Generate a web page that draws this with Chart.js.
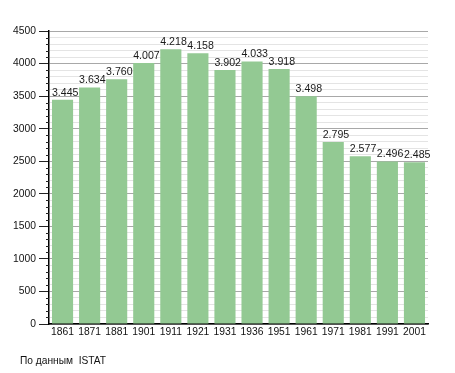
<!DOCTYPE html>
<html><head><meta charset="utf-8">
<script src="https://cdn.jsdelivr.net/npm/chart.js@4"></script>
<style>
html,body{margin:0;padding:0;background:#fff;}
#wrap{position:relative;width:455px;height:373px;}
#note{position:absolute;left:20px;top:355px;font:10.2px "Liberation Sans",Arial,sans-serif;color:#111;white-space:pre;}
</style></head>
<body><div id="wrap"><canvas id="c" width="455" height="373"></canvas><div id="note">По данным  ISTAT</div></div>
<script>
const years = ['1861','1871','1881','1901','1911','1921','1931','1936','1951','1961','1971','1981','1991','2001'];
const population = [3445,3634,3760,4007,4218,4158,3902,4033,3918,3498,2795,2577,2496,2485];
const valueLabels = ['3.445','3.634','3.760','4.007','4.218','4.158','3.902','4.033','3.918','3.498','2.795','2.577','2.496','2.485'];
const yMax = 4500;
const FONT = '"Liberation Sans", Arial, sans-serif';

const labelPlugin = {
  id:'vals',
  afterDatasetsDraw(chart){
    const ctx = chart.ctx;
    const meta = chart.getDatasetMeta(0);
    ctx.save();
    ctx.font = '10.6px ' + FONT;
    ctx.fillStyle = '#1a1a1a';
    ctx.textAlign = 'left';
    ctx.textBaseline = 'alphabetic';
    meta.data.forEach((bar,i)=>{
      ctx.fillText(valueLabels[i], bar.x - bar.width/2, bar.y - 4);
    });
    // minor ticks on the y axis
    const ys = chart.scales.y;
    ctx.strokeStyle = '#222';
    ctx.lineWidth = 1;
    for (let v = 0; v <= yMax; v += 100) {
      if (v % 500 === 0) continue;
      const py = Math.round(ys.getPixelForValue(v)) + 0.5;
      ctx.beginPath();
      ctx.moveTo(ys.right - 3, py);
      ctx.lineTo(ys.right, py);
      ctx.stroke();
    }
    ctx.restore();
  }
};

new Chart(document.getElementById('c'),{
  type:'bar',
  data:{labels:years,datasets:[{data:population,backgroundColor:'#93c993',borderWidth:0,barPercentage:0.78,categoryPercentage:1}]},
  options:{
    responsive:false,animation:false,
    layout:{padding:{top:31,right:27,left:0,bottom:0}},
    plugins:{legend:{display:false},tooltip:{enabled:false}},
    scales:{
      x:{
        grid:{display:false,drawTicks:false},
        border:{display:true,color:'#000',width:1.5},
        ticks:{color:'#111',font:{family:FONT,size:10.3},padding:2,maxRotation:0,autoSkip:false},
        afterFit(a){a.height=49;}
      },
      y:{
        min:0,max:yMax,
        border:{display:true,color:'#000',width:1.5},
        grid:{
          color:(c)=> (c.tick && c.tick.value%500===0) ? '#a8a8a8' : '#e4e4e4',
          tickColor:(c)=> (c.tick && c.tick.value%500===0) ? '#222' : 'rgba(0,0,0,0)',
          tickLength:10,drawTicks:true
        },
        ticks:{stepSize:100,autoSkip:false,color:'#111',padding:3,
          font:{family:FONT,size:10.3},
          callback:(v)=> v%500===0 ? String(v) : ''},
        afterFit(a){a.width=49;}
      }
    }
  },
  plugins:[labelPlugin]
});
</script></body></html>
